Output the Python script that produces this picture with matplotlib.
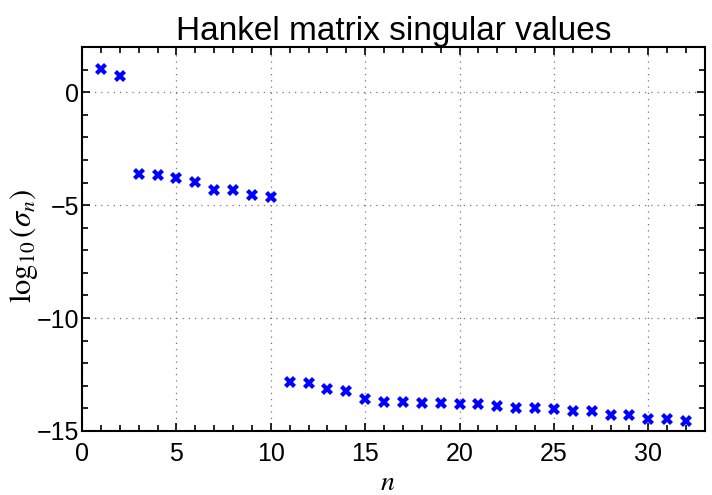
import matplotlib
matplotlib.use("Agg")
import matplotlib.pyplot as plt
from matplotlib.ticker import MultipleLocator

# log10 of the Hankel matrix singular values, n = 1..32
n = list(range(1, 33))
log_sigma = [
    1.03, 0.72, -3.62, -3.67, -3.80, -3.96, -4.31, -4.32, -4.55, -4.64,
    -12.85, -12.88, -13.13, -13.22, -13.60, -13.72, -13.73, -13.75, -13.75, -13.81,
    -13.82, -13.91, -13.98, -13.99, -14.03, -14.10, -14.10, -14.28, -14.31, -14.46,
    -14.46, -14.55,
]

plt.rcParams["font.family"] = ["Liberation Sans", "DejaVu Sans"]
plt.rcParams["mathtext.fontset"] = "stix"

fig = plt.figure(figsize=(7.12, 4.95), dpi=100)
ax = fig.add_axes([0.1152, 0.1293, 0.8748, 0.7757])

ax.plot(n, log_sigma, linestyle="none", marker="X", markersize=8,
        color="#0000ff", markeredgewidth=0)

ax.set_xlim(0, 33)
ax.set_ylim(-15, 2)
ax.set_xticks([0, 5, 10, 15, 20, 25, 30])
ax.set_yticks([0, -5, -10, -15])
ax.xaxis.set_minor_locator(MultipleLocator(1))
ax.yaxis.set_minor_locator(MultipleLocator(1))
ax.tick_params(which="both", direction="in", top=True, right=True, labelsize=18,
               width=1.2)
ax.tick_params(axis="x", pad=8)
ax.tick_params(axis="y", pad=2)
ax.tick_params(which="major", length=6)
ax.tick_params(which="minor", length=4)
for sp in ax.spines.values():
    sp.set_linewidth(1.5)

ax.grid(True, which="major", linestyle=(0, (1, 4)), color="#777777", linewidth=0.9)

ax.set_title("Hankel matrix singular values", fontsize=24, pad=5)
ax.set_xlabel("$n$", fontsize=20)
ax.xaxis.set_label_coords(0.49, -0.102)
ax.set_ylabel(r"$\log_{10}(\sigma_n)$", fontsize=22)
ax.yaxis.set_label_coords(-0.068, 0.482)

fig.savefig("out.png", dpi=100)
